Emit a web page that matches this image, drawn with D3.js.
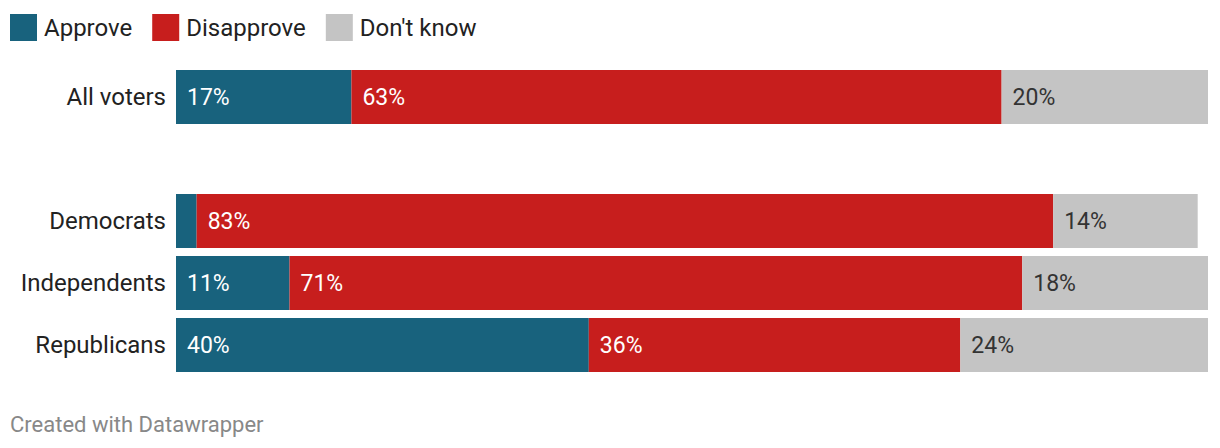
<!DOCTYPE html>
<html><head><meta charset="utf-8">
<script src="https://cdn.jsdelivr.net/npm/d3@7"></script>
<style>
html,body{margin:0;padding:0;background:#fff;}
svg{display:block;font-family:Roboto,"Noto Sans",sans-serif;}
</style></head>
<body><svg id="c" width="1220" height="448"></svg>
<script>
const categories = ["All voters", "", "Democrats", "Independents", "Republicans"];
const seriesNames = ["Approve", "Disapprove", "Don't know"];
const approve    = [17, null, 2, 11, 40];
const disapprove = [63, null, 83, 71, 36];
const dontKnow   = [20, null, 14, 18, 24];
const valueLabels = [
  ["17%", "63%", "20%"],
  null,
  ["", "83%", "14%"],
  ["11%", "71%", "18%"],
  ["40%", "36%", "24%"]
];
const colors = ["#18627d", "#c71e1d", "#c4c4c4"];
const labelColors = ["#ffffff", "#ffffff", "#333333"];

const svg = d3.select("#c");
const x = d3.scaleLinear().domain([0, 100]).range([176, 1208]);
const y = d3.scaleBand().domain(categories.map((c,i)=>i)).range([70, 372]).paddingInner(8/62).paddingOuter(0);

// legend
let lx = 10;
const leg = svg.append("g");
seriesNames.forEach((n,i)=>{
  leg.append("rect").attr("x", lx).attr("y", 14).attr("width", 27).attr("height", 27).attr("fill", colors[i]);
  const t = leg.append("text").attr("x", lx+34).attr("y", 36).attr("font-size", 24).attr("fill", "#222").text(n);
  lx += 34 + t.node().getComputedTextLength() + 20;
});

const series = [approve, disapprove, dontKnow];
categories.forEach((cat, i) => {
  if (!cat) return;
  const g = svg.append("g");
  const yy = y(i), h = y.bandwidth();
  g.append("text").attr("x", 166).attr("y", yy + h/2).attr("dy", "0.33em")
    .attr("text-anchor", "end").attr("font-size", 24).attr("fill", "#222").text(cat);
  let acc = 0;
  series.forEach((s, k) => {
    const v = s[i];
    g.append("rect").attr("x", x(acc)).attr("y", yy).attr("width", x(acc+v)-x(acc)).attr("height", h).attr("fill", colors[k]);
    const lab = valueLabels[i][k];
    if (lab) {
      g.append("text").attr("x", x(acc) + 11).attr("y", yy + h/2).attr("dy", "0.33em")
        .attr("font-size", 23).attr("fill", labelColors[k]).text(lab);
    }
    acc += v;
  });
});

svg.append("text").attr("x", 10).attr("y", 432).attr("font-size", 22).attr("fill", "#888").text("Created with Datawrapper");
</script></body></html>
